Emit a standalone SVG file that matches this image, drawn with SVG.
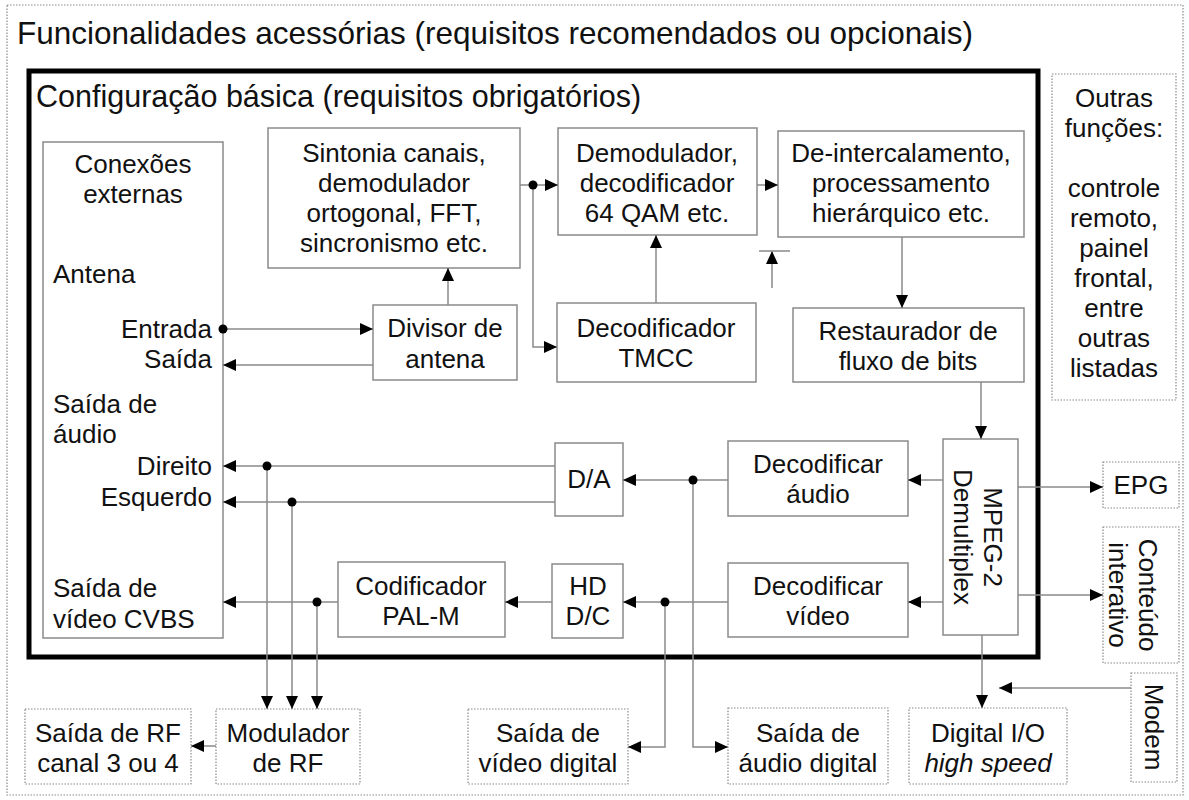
<svg xmlns="http://www.w3.org/2000/svg" width="1189" height="800" viewBox="0 0 1189 800">
<defs>
<marker id="arr" viewBox="0 0 13 12" refX="13" refY="6" markerWidth="13" markerHeight="12" markerUnits="userSpaceOnUse" orient="auto">
<path d="M0,0 L13,6 L0,12 Z" fill="#000"/>
</marker>
<style>
text{font-family:"Liberation Sans",Arial,sans-serif;font-size:26px;fill:#111}
.c{text-anchor:middle}
.r{text-anchor:end}
.t1{font-size:31.5px}
.t2{font-size:30.5px}
.box{fill:#fff;stroke:#8a8a8a;stroke-width:1.5}
.dot{fill:#fff;stroke:#8a8a8a;stroke-width:1.2;stroke-dasharray:1.5 1.5}
.ln{fill:none;stroke:#8a8a8a;stroke-width:1.5}
.ar{marker-end:url(#arr)}
.jn{fill:#000}
</style>
</defs>
<rect x="0" y="0" width="1189" height="800" fill="#fff"/>
<rect x="7" y="5" width="1176" height="790" class="dot" fill="none"/>
<text x="17" y="44" class="t1">Funcionalidades acessórias (requisitos recomendados ou opcionais)</text>
<rect x="29" y="71" width="1009" height="586" fill="none" stroke="#000" stroke-width="5"/>
<text x="36" y="107" class="t2">Configuração básica (requisitos obrigatórios)</text>

<g id="conexoes">
<rect x="43" y="142" width="180" height="496" class="box"/>
<text x="133" y="173" class="c">Conexões</text>
<text x="133" y="203" class="c">externas</text>
<text x="53" y="283">Antena</text>
<text x="212" y="338" class="r">Entrada</text>
<text x="212" y="368" class="r">Saída</text>
<text x="53" y="413">Saída de</text>
<text x="53" y="443">áudio</text>
<text x="212" y="475" class="r">Direito</text>
<text x="212" y="506" class="r">Esquerdo</text>
<text x="53" y="597">Saída de</text>
<text x="53" y="628">vídeo CVBS</text>
</g>
<g id="sintonia">
<rect x="268" y="128" width="252" height="140" class="box"/>
<text x="394" y="162" class="c">Sintonia canais,</text>
<text x="394" y="192" class="c">demodulador</text>
<text x="394" y="222" class="c">ortogonal, FFT,</text>
<text x="394" y="252" class="c">sincronismo etc.</text>
</g>
<g id="divisor">
<rect x="373" y="305" width="144" height="75" class="box"/>
<text x="445" y="337" class="c">Divisor de</text>
<text x="445" y="368" class="c">antena</text>
</g>
<g id="demodulador">
<rect x="558" y="128" width="199" height="107" class="box"/>
<text x="657" y="162" class="c">Demodulador,</text>
<text x="657" y="192" class="c">decodificador</text>
<text x="657" y="222" class="c">64 QAM etc.</text>
</g>
<g id="tmcc">
<rect x="557" y="303" width="199" height="79" class="box"/>
<text x="656" y="337" class="c">Decodificador</text>
<text x="656" y="367" class="c">TMCC</text>
</g>
<g id="deintercalamento">
<rect x="778" y="131" width="246" height="106" class="box"/>
<text x="901" y="162" class="c">De-intercalamento,</text>
<text x="901" y="192" class="c">processamento</text>
<text x="901" y="222" class="c">hierárquico etc.</text>
</g>
<g id="restaurador">
<rect x="793" y="308" width="231" height="74" class="box"/>
<text x="908" y="340" class="c">Restaurador de</text>
<text x="908" y="370" class="c">fluxo de bits</text>
</g>
<g id="mpeg">
<rect x="943" y="439" width="75" height="196" class="box"/>
<g transform="translate(980,537) rotate(90)">
<text x="0" y="-4" class="c">MPEG-2</text>
<text x="0" y="26" class="c">Demultiplex</text>
</g>
</g>
<g id="dec-audio">
<rect x="728" y="441" width="180" height="75" class="box"/>
<text x="818" y="473" class="c">Decodificar</text>
<text x="818" y="503" class="c">áudio</text>
</g>
<g id="dec-video">
<rect x="728" y="563" width="180" height="74" class="box"/>
<text x="818" y="595" class="c">Decodificar</text>
<text x="818" y="625" class="c">vídeo</text>
</g>
<g id="da">
<rect x="555" y="443" width="68" height="73" class="box"/>
<text x="589" y="488" class="c">D/A</text>
</g>
<g id="hddc">
<rect x="552" y="564" width="71" height="74" class="box"/>
<text x="588" y="595" class="c">HD</text>
<text x="588" y="625" class="c">D/C</text>
</g>
<g id="codificador">
<rect x="338" y="562" width="167" height="75" class="box"/>
<text x="421" y="595" class="c">Codificador</text>
<text x="421" y="625" class="c">PAL-M</text>
</g>
<g id="outras">
<rect x="1052" y="74" width="124" height="326" class="dot"/>
<text x="1114" y="107" class="c">Outras</text>
<text x="1114" y="137" class="c">funções:</text>
<text x="1114" y="197" class="c">controle</text>
<text x="1114" y="227" class="c">remoto,</text>
<text x="1114" y="257" class="c">painel</text>
<text x="1114" y="287" class="c">frontal,</text>
<text x="1114" y="317" class="c">entre</text>
<text x="1114" y="347" class="c">outras</text>
<text x="1114" y="377" class="c">listadas</text>
</g>
<g id="epg">
<rect x="1103" y="462" width="76" height="46" class="dot"/>
<text x="1141" y="494" class="c">EPG</text>
</g>
<g id="conteudo">
<rect x="1103" y="527" width="76" height="136" class="dot"/>
<g transform="translate(1135,595) rotate(90)">
<text x="0" y="-4" class="c">Conteúdo</text>
<text x="0" y="26" class="c">interativo</text>
</g>
</g>
<g id="modem">
<rect x="1131" y="673" width="46" height="109" class="dot"/>
<text transform="translate(1154,727) rotate(90)" x="0" y="9" class="c">Modem</text>
</g>
<g id="saida-rf">
<rect x="25" y="709" width="166" height="75" class="dot"/>
<text x="108" y="742" class="c">Saída de RF</text>
<text x="108" y="772" class="c">canal 3 ou 4</text>
</g>
<g id="modulador">
<rect x="216" y="709" width="144" height="75" class="dot"/>
<text x="288" y="742" class="c">Modulador</text>
<text x="288" y="772" class="c">de RF</text>
</g>
<g id="video-digital">
<rect x="468" y="709" width="160" height="75" class="dot"/>
<text x="548" y="742" class="c">Saída de</text>
<text x="548" y="772" class="c">vídeo digital</text>
</g>
<g id="audio-digital">
<rect x="728" y="708" width="160" height="76" class="dot"/>
<text x="808" y="742" class="c">Saída de</text>
<text x="808" y="772" class="c">áudio digital</text>
</g>
<g id="digital-io">
<rect x="909" y="708" width="158" height="76" class="dot"/>
<text x="988" y="742" class="c">Digital I/O</text>
<text x="988" y="772" class="c" font-style="italic">high speed</text>
</g>

<g id="connectors">
<path class="ln ar" d="M223,329 H373"/>
<path class="ln ar" d="M373,365 H223"/>
<path class="ln ar" d="M448,305 V268"/>
<path class="ln ar" d="M520,185 H558"/>
<path class="ln ar" d="M533,185 V347 H557"/>
<path class="ln ar" d="M656,303 V235"/>
<path class="ln ar" d="M757,185 H778"/>
<path class="ln ar" d="M902,237 V308"/>
<path class="ln ar" d="M772,288 V251"/>
<path class="ln" d="M759,251 H790"/>
<path class="ln ar" d="M981,382 V439"/>
<path class="ln ar" d="M943,480 H908"/>
<path class="ln ar" d="M943,602 H908"/>
<path class="ln ar" d="M728,480 H623"/>
<path class="ln ar" d="M693,480 V747 H728"/>
<path class="ln ar" d="M555,466 H223"/>
<path class="ln ar" d="M555,502 H223"/>
<path class="ln ar" d="M728,602 H623"/>
<path class="ln ar" d="M665,602 V747 H628"/>
<path class="ln ar" d="M552,602 H505"/>
<path class="ln ar" d="M338,602 H223"/>
<path class="ln ar" d="M267,466 V709"/>
<path class="ln ar" d="M292,502 V709"/>
<path class="ln ar" d="M317,602 V709"/>
<path class="ln ar" d="M216,746 H191"/>
<path class="ln ar" d="M1018,487 H1103"/>
<path class="ln ar" d="M1018,595 H1103"/>
<path class="ln ar" d="M982,635 V708"/>
<path class="ln ar" d="M1131,688 H999"/>
<circle class="jn" cx="223" cy="329" r="4.5"/>
<circle class="jn" cx="533" cy="185" r="4.5"/>
<circle class="jn" cx="693" cy="480" r="4.5"/>
<circle class="jn" cx="665" cy="602" r="4.5"/>
<circle class="jn" cx="267" cy="466" r="4.5"/>
<circle class="jn" cx="292" cy="502" r="4.5"/>
<circle class="jn" cx="317" cy="602" r="4.5"/>
</g>
</svg>
